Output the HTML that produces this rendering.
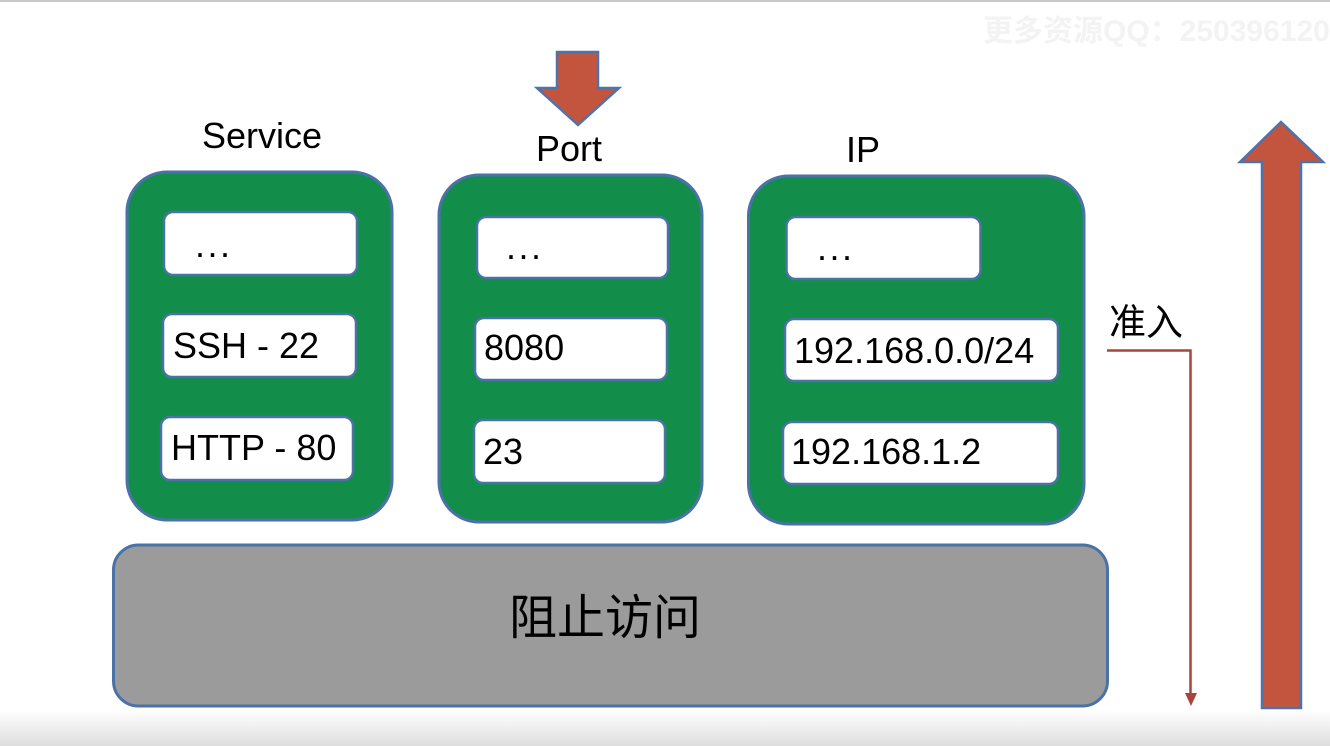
<!DOCTYPE html>
<html>
<head>
<meta charset="utf-8">
<style>
  html,body{margin:0;padding:0;background:#fff;}
  body{width:1330px;height:746px;overflow:hidden;}
  svg{display:block;}
  text{font-family:"Liberation Sans","Noto Sans CJK SC",sans-serif;fill:#000;}
</style>
</head>
<body>
<svg width="1330" height="746" viewBox="0 0 1330 746" xmlns="http://www.w3.org/2000/svg">
  <defs>
    <linearGradient id="bot" x1="0" y1="0" x2="0" y2="1">
      <stop offset="0" stop-color="#ffffff"/>
      <stop offset="1" stop-color="#dedede"/>
    </linearGradient>
  </defs>
  <rect x="0" y="0" width="1330" height="746" fill="#ffffff"/>
  <rect x="0" y="710" width="1330" height="36" fill="url(#bot)"/>
  <rect x="0" y="0" width="1330" height="2" fill="#c9c9c9"/>

  <!-- watermark -->
  <text x="983" y="41" font-size="30" font-weight="bold" style="fill:#f3f3f3">更多资源QQ：2503961200</text>

  <!-- labels -->
  <text x="202" y="148" font-size="36">Service</text>
  <text x="536" y="161" font-size="36">Port</text>
  <text x="846" y="162" font-size="36">IP</text>

  <!-- down arrow -->
  <polygon points="557,52 598,52 598,88 619,88 578,125 537,88 557,88" fill="#c3553f" stroke="#4f72a8" stroke-width="2.5" stroke-linejoin="miter"/>

  <!-- up arrow -->
  <polygon points="1262,708 1262,162 1240,162 1281,122 1323,162 1301,162 1301,708" fill="#c3553f" stroke="#4f72a8" stroke-width="2.5"/>

  <!-- Service box -->
  <rect x="127" y="172" width="265" height="348" rx="40" fill="#128d4a" stroke="#4a72a6" stroke-width="3"/>
  <rect x="164" y="212" width="193" height="63" rx="9" fill="#fff" stroke="#4a72a6" stroke-width="2.5"/>
  <rect x="163" y="314" width="193" height="63" rx="9" fill="#fff" stroke="#4a72a6" stroke-width="2.5"/>
  <rect x="161" y="417" width="192" height="63" rx="9" fill="#fff" stroke="#4a72a6" stroke-width="2.5"/>
  <text x="195" y="257" font-size="36" letter-spacing="2.5">...</text>
  <text x="173" y="358" font-size="36">SSH - 22</text>
  <text x="171" y="460" font-size="36">HTTP - 80</text>

  <!-- Port box -->
  <rect x="439" y="175" width="263" height="347" rx="40" fill="#128d4a" stroke="#4a72a6" stroke-width="3"/>
  <rect x="477" y="217" width="191" height="61" rx="9" fill="#fff" stroke="#4a72a6" stroke-width="2.5"/>
  <rect x="475" y="318" width="192" height="62" rx="9" fill="#fff" stroke="#4a72a6" stroke-width="2.5"/>
  <rect x="474" y="420" width="191" height="63" rx="9" fill="#fff" stroke="#4a72a6" stroke-width="2.5"/>
  <text x="506" y="259" font-size="36" letter-spacing="2.5">...</text>
  <text x="484" y="360" font-size="36">8080</text>
  <text x="483" y="464" font-size="36">23</text>

  <!-- IP box -->
  <rect x="748.5" y="176" width="335.5" height="348" rx="40" fill="#128d4a" stroke="#4a72a6" stroke-width="3"/>
  <rect x="786.5" y="217" width="194" height="62" rx="9" fill="#fff" stroke="#4a72a6" stroke-width="2.5"/>
  <rect x="785" y="319" width="273" height="62" rx="9" fill="#fff" stroke="#4a72a6" stroke-width="2.5"/>
  <rect x="783" y="422" width="275" height="62" rx="9" fill="#fff" stroke="#4a72a6" stroke-width="2.5"/>
  <text x="817" y="260" font-size="36" letter-spacing="2.5">...</text>
  <text x="794" y="363" font-size="36">192.168.0.0/24</text>
  <text x="791" y="464" font-size="36">192.168.1.2</text>

  <!-- gray block -->
  <rect x="113.5" y="545" width="994" height="161" rx="25" fill="#9b9b9b" stroke="#4a72a6" stroke-width="3"/>
  <text x="605" y="634" font-size="48" text-anchor="middle" style="font-family:'Noto Sans CJK SC',sans-serif">阻止访问</text>

  <!-- 准入 connector -->
  <text x="1109" y="335" font-size="37" style="font-family:'Noto Sans CJK SC',sans-serif">准入</text>
  <polyline points="1107,350.5 1190.5,350.5 1190.5,695" fill="none" stroke="#a8453a" stroke-width="2.5"/>
  <polygon points="1185,693 1197,693 1191,706" fill="#a8453a"/>
</svg>
</body>
</html>
